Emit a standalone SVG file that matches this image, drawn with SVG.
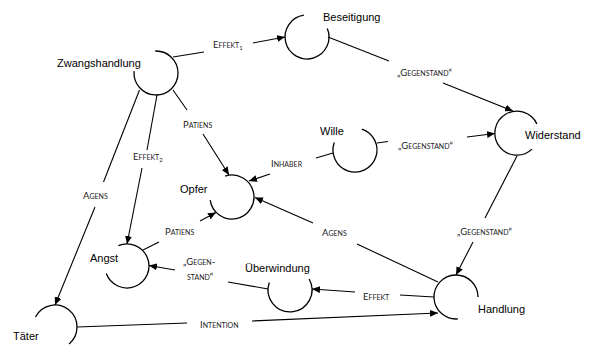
<svg xmlns="http://www.w3.org/2000/svg" width="590" height="345" viewBox="0 0 590 345">
  <style>
    .arc { fill: none; stroke: #000; stroke-width: 1.3; }
    .ln { fill: none; stroke: #000; stroke-width: 1.1; }
    .arr { marker-end: url(#head); }
    .nl { font-family: "Liberation Sans", Arial, sans-serif; font-size: 11px; fill: #000; }
    .el { font-family: Lato, "Open Sans", sans-serif; font-size: 9.5px; font-variant: small-caps; fill: #222; }
    .sub { font-size: 6px; font-variant: normal; }
  </style>
  <defs>
    <marker id="head" markerUnits="userSpaceOnUse" markerWidth="9" markerHeight="7" refX="8" refY="3.5" orient="auto">
      <path d="M0,0 L8,3.5 L0,7 z" fill="#000"/>
    </marker>
  </defs>
  <rect width="590" height="345" fill="#fff"/>

  <!-- connectors: each relation is a line, a label, and an arrow on to the target -->
  <g id="connectors">
    <g id="e-zw-bes">
      <line class="ln" x1="173" y1="57" x2="204" y2="52"/>
      <text class="el" x="213" y="48">Effekt<tspan class="sub" dy="2">1</tspan></text>
      <line class="ln arr" x1="253" y1="43" x2="285" y2="37"/>
    </g>
    <g id="e-bes-wid">
      <line class="ln" x1="328" y1="37" x2="389" y2="61"/>
      <text class="el" x="397" y="76">„Gegenstand“</text>
      <line class="ln arr" x1="443" y1="83" x2="513" y2="111"/>
    </g>
    <g id="e-zw-opf">
      <line class="ln" x1="173" y1="90" x2="187" y2="110"/>
      <text class="el" x="183" y="128">Patiens</text>
      <line class="ln arr" x1="203" y1="134" x2="229" y2="175"/>
    </g>
    <g id="e-zw-ang">
      <line class="ln" x1="157" y1="95" x2="147" y2="150"/>
      <text class="el" x="133" y="160">Effekt<tspan class="sub" dy="2">2</tspan></text>
      <line class="ln arr" x1="142" y1="168" x2="127" y2="244"/>
    </g>
    <g id="e-zw-tae">
      <line class="ln" x1="139.5" y1="90" x2="103.5" y2="182"/>
      <text class="el" x="83" y="199">Agens</text>
      <line class="ln arr" x1="95" y1="207" x2="55" y2="305"/>
    </g>
    <g id="e-wil-opf">
      <line class="ln" x1="333" y1="153" x2="316" y2="158"/>
      <text class="el" x="271" y="167">Inhaber</text>
      <line class="ln arr" x1="270" y1="174" x2="249" y2="181"/>
    </g>
    <g id="e-wil-wid">
      <line class="ln" x1="377" y1="143" x2="388" y2="141.5"/>
      <text class="el" x="398" y="149">„Gegenstand“</text>
      <line class="ln arr" x1="467" y1="137" x2="495" y2="133.5"/>
    </g>
    <g id="e-wid-han">
      <line class="ln" x1="517" y1="156" x2="485" y2="218"/>
      <text class="el" x="457" y="235">„Gegenstand“</text>
      <line class="ln arr" x1="473" y1="242" x2="456" y2="275"/>
    </g>
    <g id="e-han-opf">
      <line class="ln" x1="438" y1="282" x2="357" y2="244"/>
      <text class="el" x="322" y="236">Agens</text>
      <line class="ln arr" x1="313" y1="223" x2="255" y2="197.5"/>
    </g>
    <g id="e-han-ueb">
      <line class="ln" x1="434" y1="297" x2="400" y2="295"/>
      <text class="el" x="363" y="300">Effekt</text>
      <line class="ln arr" x1="355" y1="292" x2="312" y2="289"/>
    </g>
    <g id="e-ueb-ang">
      <line class="ln" x1="268" y1="289" x2="228" y2="282"/>
      <text class="el" x="183" y="265">„Gegen-</text>
      <text class="el" x="187" y="280">stand“</text>
      <line class="ln arr" x1="175" y1="270" x2="149" y2="265.5"/>
    </g>
    <g id="e-ang-opf">
      <line class="ln" x1="143" y1="250" x2="159" y2="242"/>
      <text class="el" x="165" y="235">Patiens</text>
      <line class="ln arr" x1="200" y1="221" x2="216" y2="212.5"/>
    </g>
    <g id="e-tae-han">
      <line class="ln" x1="77" y1="327" x2="187" y2="323"/>
      <text class="el" x="200" y="328">Intention</text>
      <line class="ln arr" x1="252" y1="321" x2="438" y2="313"/>
    </g>
  </g>

  <!-- nodes: open circles with their names beside them -->
  <g id="zwangshandlung">
    <path class="arc" d="M155.2,51 A22,22 0 1 1 134.1,71.1"/>
    <text class="nl" x="57" y="67">Zwangshandlung</text>
  </g>
  <g id="beseitigung">
    <path class="arc" d="M327.3,28.4 A22,22 0 1 1 303.9,15.2"/>
    <text class="nl" x="323" y="21">Beseitigung</text>
  </g>
  <g id="widerstand">
    <path class="arc" d="M532,149.1 A22,22 0 1 1 536.9,124"/>
    <text class="nl" x="525" y="139">Widerstand</text>
  </g>
  <g id="wille">
    <path class="arc" d="M361.8,129.1 A22,22 0 1 1 334.3,142.5"/>
    <text class="nl" x="320" y="135">Wille</text>
  </g>
  <g id="opfer">
    <path class="arc" d="M225.2,176.1 A22,22 0 1 1 210.2,200.1"/>
    <text class="nl" x="180" y="192.5">Opfer</text>
  </g>
  <g id="angst">
    <path class="arc" d="M118.4,245.7 A22,22 0 1 1 106.3,273.5"/>
    <text class="nl" x="90" y="262">Angst</text>
  </g>
  <g id="ueberwindung">
    <path class="arc" d="M309.1,279 A22,22 0 1 1 269.3,282.5"/>
    <text class="nl" x="245" y="272">Überwindung</text>
  </g>
  <g id="handlung">
    <path class="arc" d="M457.9,318.9 A22,22 0 1 1 478,297"/>
    <text class="nl" x="478" y="313">Handlung</text>
  </g>
  <g id="taeter">
    <path class="arc" d="M35.4,317 A22,22 0 1 1 69.1,343.9"/>
    <text class="nl" x="13" y="340">Täter</text>
  </g>
</svg>
